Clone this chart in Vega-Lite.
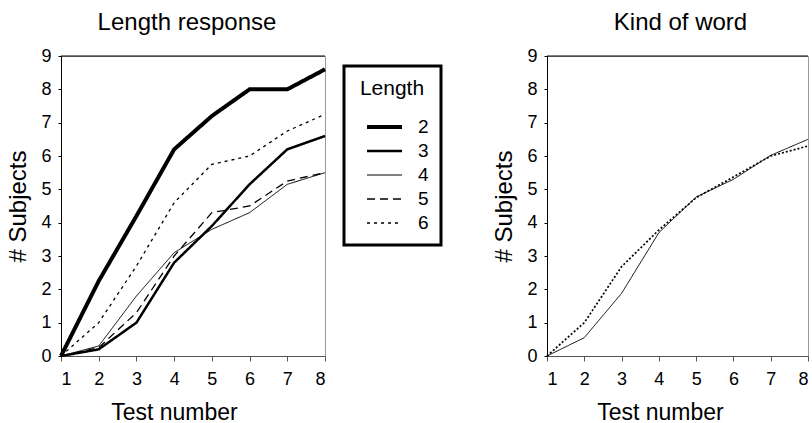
{
  "$schema": "https://vega.github.io/schema/vega-lite/v6.json",
  "padding": {"left": 6, "top": 10, "right": 0, "bottom": 0},
  "spacing": 49,
  "resolve": {"scale": {"strokeDash": "independent", "strokeWidth": "independent"}, "legend": {"strokeDash": "independent", "strokeWidth": "independent"}},
  "config": {
    "font": "Liberation Sans",
    "view": {"stroke": "#999", "strokeWidth": 1},
    "axis": {"grid": false, "labelColor": "black", "titleColor": "black", "labelFontSize": 18, "titleFontSize": 23, "titleFontWeight": "normal", "labelFont": "Liberation Sans", "titleFont": "Liberation Sans"},
    "axisX": {"domainColor": "#555", "tickColor": "#555", "tickSize": 5, "labelPadding": 9, "titlePadding": 13, "titleX": 113, "values": [1, 2, 3, 4, 5, 6, 7, 8], "labelAngle": 0},
    "axisY": {"domainColor": "black", "tickColor": "black", "tickSize": 3, "labelPadding": 7, "titlePadding": 10, "titleFontSize": 24, "values": [0, 1, 2, 3, 4, 5, 6, 7, 8, 9]},
    "title": {"fontSize": 24, "fontWeight": "normal", "font": "Liberation Sans", "color": "black", "offset": 12},
    "legend": {"strokeWidth": 3}
  },
  "datasets": {
    "length": [
      {"test": 1, "subjects": 0, "Length": "2"},
      {"test": 2, "subjects": 2.25, "Length": "2"},
      {"test": 3, "subjects": 4.2, "Length": "2"},
      {"test": 4, "subjects": 6.2, "Length": "2"},
      {"test": 5, "subjects": 7.2, "Length": "2"},
      {"test": 6, "subjects": 8.0, "Length": "2"},
      {"test": 7, "subjects": 8.0, "Length": "2"},
      {"test": 8, "subjects": 8.6, "Length": "2"},
      {"test": 1, "subjects": 0, "Length": "3"},
      {"test": 2, "subjects": 0.2, "Length": "3"},
      {"test": 3, "subjects": 1.0, "Length": "3"},
      {"test": 4, "subjects": 2.8, "Length": "3"},
      {"test": 5, "subjects": 3.9, "Length": "3"},
      {"test": 6, "subjects": 5.15, "Length": "3"},
      {"test": 7, "subjects": 6.2, "Length": "3"},
      {"test": 8, "subjects": 6.6, "Length": "3"},
      {"test": 1, "subjects": 0, "Length": "4"},
      {"test": 2, "subjects": 0.3, "Length": "4"},
      {"test": 3, "subjects": 1.8, "Length": "4"},
      {"test": 4, "subjects": 3.1, "Length": "4"},
      {"test": 5, "subjects": 3.8, "Length": "4"},
      {"test": 6, "subjects": 4.3, "Length": "4"},
      {"test": 7, "subjects": 5.15, "Length": "4"},
      {"test": 8, "subjects": 5.5, "Length": "4"},
      {"test": 1, "subjects": 0, "Length": "5"},
      {"test": 2, "subjects": 0.25, "Length": "5"},
      {"test": 3, "subjects": 1.3, "Length": "5"},
      {"test": 4, "subjects": 3.0, "Length": "5"},
      {"test": 5, "subjects": 4.3, "Length": "5"},
      {"test": 6, "subjects": 4.5, "Length": "5"},
      {"test": 7, "subjects": 5.25, "Length": "5"},
      {"test": 8, "subjects": 5.5, "Length": "5"},
      {"test": 1, "subjects": 0, "Length": "6"},
      {"test": 2, "subjects": 1.0, "Length": "6"},
      {"test": 3, "subjects": 2.7, "Length": "6"},
      {"test": 4, "subjects": 4.6, "Length": "6"},
      {"test": 5, "subjects": 5.75, "Length": "6"},
      {"test": 6, "subjects": 6.0, "Length": "6"},
      {"test": 7, "subjects": 6.75, "Length": "6"},
      {"test": 8, "subjects": 7.25, "Length": "6"}
    ],
    "kind": [
      {"test": 1, "subjects": 0, "Kind": "A"},
      {"test": 2, "subjects": 0.55, "Kind": "A"},
      {"test": 3, "subjects": 1.88, "Kind": "A"},
      {"test": 4, "subjects": 3.7, "Kind": "A"},
      {"test": 5, "subjects": 4.77, "Kind": "A"},
      {"test": 6, "subjects": 5.3, "Kind": "A"},
      {"test": 7, "subjects": 6.02, "Kind": "A"},
      {"test": 8, "subjects": 6.5, "Kind": "A"},
      {"test": 1, "subjects": 0, "Kind": "B"},
      {"test": 2, "subjects": 1.0, "Kind": "B"},
      {"test": 3, "subjects": 2.68, "Kind": "B"},
      {"test": 4, "subjects": 3.78, "Kind": "B"},
      {"test": 5, "subjects": 4.75, "Kind": "B"},
      {"test": 6, "subjects": 5.37, "Kind": "B"},
      {"test": 7, "subjects": 6.0, "Kind": "B"},
      {"test": 8, "subjects": 6.3, "Kind": "B"}
    ],
    "top": [{"top": 9}]
  },
  "hconcat": [
    {
      "title": {"text": "Length response", "dx": -6},
      "width": 264,
      "height": 300,
      "layer": [
        {
          "data": {"name": "length"},
          "mark": {"type": "line", "color": "black"},
          "encoding": {
            "x": {"field": "test", "type": "quantitative", "scale": {"domain": [1, 8], "nice": false, "zero": false}, "axis": {"title": "Test number"}},
            "y": {"field": "subjects", "type": "quantitative", "scale": {"domain": [0, 9], "nice": false}, "axis": {"title": "# Subjects"}},
            "strokeDash": {"field": "Length", "type": "nominal", "scale": {"domain": ["2", "3", "4", "5", "6"], "range": [[1, 0], [1, 0], [1, 0], [8, 5], [3, 4]]}, "legend": {"title": "Length", "orient": "none", "legendX": 283, "legendY": 10, "symbolType": "stroke", "symbolSize": 1225, "symbolStrokeColor": "black", "symbolOffset": 9, "strokeColor": "black", "padding": 12, "clipHeight": 20, "titleFontSize": 21, "titleFontWeight": "normal", "titleColor": "black", "titlePadding": 18, "labelFontSize": 19, "labelColor": "black", "labelOffset": 14, "rowPadding": 4, "titleAnchor": "middle"}},
            "strokeWidth": {"field": "Length", "type": "nominal", "scale": {"type": "ordinal", "domain": ["2", "3", "4", "5", "6"], "range": [4, 2.5, 1, 1.3, 1.3]}, "legend": {"title": "Length"}}
          }
        },
        {
          "data": {"name": "top"},
          "mark": {"type": "rule", "color": "black", "strokeWidth": 1},
          "encoding": {"y": {"field": "top", "type": "quantitative"}}
        }
      ]
    },
    {
      "title": {"text": "Kind of word", "dx": 3},
      "width": 261,
      "height": 300,
      "layer": [
        {
          "data": {"name": "kind"},
          "mark": {"type": "line", "color": "black"},
          "encoding": {
            "x": {"field": "test", "type": "quantitative", "scale": {"domain": [1, 8], "nice": false, "zero": false}, "axis": {"title": "Test number"}},
            "y": {"field": "subjects", "type": "quantitative", "scale": {"domain": [0, 9], "nice": false}, "axis": {"title": "# Subjects"}},
            "strokeDash": {"field": "Kind", "type": "nominal", "scale": {"domain": ["A", "B"], "range": [[1, 0], [2, 2]]}, "legend": null},
            "strokeWidth": {"field": "Kind", "type": "nominal", "scale": {"type": "ordinal", "domain": ["A", "B"], "range": [1, 1.7]}, "legend": null}
          }
        },
        {
          "data": {"name": "top"},
          "mark": {"type": "rule", "color": "black", "strokeWidth": 1},
          "encoding": {"y": {"field": "top", "type": "quantitative"}}
        }
      ]
    }
  ]
}
